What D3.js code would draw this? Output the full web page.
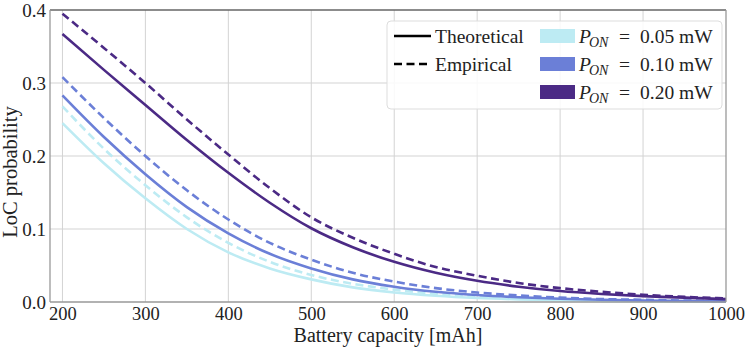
<!DOCTYPE html>
<html><head><meta charset="utf-8">
<script src="https://cdn.jsdelivr.net/npm/d3@7/dist/d3.min.js"></script>
<style>body{margin:0;background:#fff}svg{display:block}text{font-family:"Liberation Serif","DejaVu Serif",serif;fill:#222}</style>
</head><body><svg id="c" width="748" height="349"></svg>
<script>
const capacity = [200,250,300,350,400,450,500,550,600,650,700,750,800,850,900,950,1000];
const theo005 = [.245,.190,.142,.100,.068,.046,.031,.020,.013,.0085,.0055,.0036,.0024,.0016,.001,.0007,.0005];
const emp005  = [.268,.210,.160,.116,.081,.055,.037,.025,.017,.011,.0075,.005,.0034,.0023,.0015,.001,.0007];
const theo010 = [.283,.226,.175,.130,.094,.066,.046,.031,.021,.014,.0095,.0065,.0045,.003,.002,.0014,.001];
const emp010  = [.308,.252,.200,.153,.113,.081,.058,.040,.028,.019,.013,.009,.006,.004,.003,.002,.0015];
const theo020 = [.367,.318,.270,.222,.177,.136,.101,.075,.055,.040,.029,.021,.015,.011,.008,.006,.004];
const emp020  = [.395,.348,.300,.250,.202,.156,.116,.088,.066,.048,.036,.026,.019,.014,.010,.007,.005];
const xTicks = [200,300,400,500,600,700,800,900,1000];
const yTicks = [0.0,0.1,0.2,0.3,0.4];
const powerLabels = ["0.05","0.10","0.20"];
const colors = ["#bdebf3","#6b7fd7","#4b2a85"];

const series = [
  {v:theo005,c:0,dash:false},{v:emp005,c:0,dash:true},
  {v:theo010,c:1,dash:false},{v:emp010,c:1,dash:true},
  {v:theo020,c:2,dash:false},{v:emp020,c:2,dash:true}
];

const svg = d3.select("#c");
const L=50,R=726,T=10,B=302;
const x = d3.scaleLinear().domain([185,1000]).range([L,R]);
const y = d3.scaleLinear().domain([0,0.4]).range([B,T]);

// grid
svg.append("g").selectAll("line").data(xTicks.filter(d=>d<1000)).join("line")
  .attr("x1",d=>x(d)).attr("x2",d=>x(d)).attr("y1",T).attr("y2",B)
  .attr("stroke","#d3d3d3").attr("stroke-width",1);
svg.append("g").selectAll("line").data(yTicks.filter(d=>d>0&&d<0.4)).join("line")
  .attr("y1",d=>y(d)).attr("y2",d=>y(d)).attr("x1",L).attr("x2",R)
  .attr("stroke","#d3d3d3").attr("stroke-width",1);

// lines
const line = d3.line().x((d,i)=>x(capacity[i])).y(d=>y(d)).curve(d3.curveMonotoneX);
svg.append("g").selectAll("path").data(series).join("path")
  .attr("d",d=>line(d.v)).attr("fill","none")
  .attr("stroke",d=>colors[d.c]).attr("stroke-width",2.6)
  .attr("stroke-dasharray",d=>d.dash?"8,4.5":null);

// spines
svg.append("line").attr("x1",L).attr("x2",R).attr("y1",T).attr("y2",T).attr("stroke","#666").attr("stroke-width",1.3);
svg.append("line").attr("x1",R).attr("x2",R).attr("y1",T).attr("y2",B).attr("stroke","#999").attr("stroke-width",1.3);
svg.append("line").attr("x1",L).attr("x2",L).attr("y1",T).attr("y2",B).attr("stroke","#999").attr("stroke-width",1.3);
svg.append("line").attr("x1",L).attr("x2",R).attr("y1",B).attr("y2",B).attr("stroke","#999").attr("stroke-width",1.3);

// axes (tick labels only)
const xa = svg.append("g").attr("transform",`translate(0,${B})`)
  .call(d3.axisBottom(x).tickValues(xTicks).tickSize(0).tickPadding(5).tickFormat(d3.format("d")));
xa.select(".domain").remove();
xa.selectAll("text").attr("font-size",18.5).attr("font-family","Liberation Serif").attr("fill","#222");
const ya = svg.append("g").attr("transform",`translate(${L},0)`)
  .call(d3.axisLeft(y).tickValues(yTicks).tickSize(0).tickPadding(4).tickFormat(d3.format(".1f")));
ya.select(".domain").remove();
ya.selectAll("text").attr("font-size",19).attr("font-family","Liberation Serif").attr("fill","#222");

svg.append("text").attr("x",388).attr("y",342).attr("text-anchor","middle").attr("font-size",20).text("Battery capacity [mAh]");
svg.append("text").attr("transform","translate(17,172) rotate(-90)").attr("text-anchor","middle").attr("font-size",20.5).text("LoC probability");

// legend
const lg = svg.append("g");
lg.append("rect").attr("x",387).attr("y",21).attr("width",335).attr("height",88).attr("rx",4)
  .attr("fill","#fff").attr("fill-opacity",0.85).attr("stroke","#ddd").attr("stroke-width",1);
const styleRows = [{t:"Theoretical",dash:false},{t:"Empirical",dash:true}];
styleRows.forEach((r,i)=>{
  const yy = 36+i*28;
  lg.append("line").attr("x1",394).attr("x2",431).attr("y1",yy).attr("y2",yy)
    .attr("stroke","#000").attr("stroke-width",2.6).attr("stroke-dasharray",r.dash?"8,4.5":null);
  lg.append("text").attr("x",435).attr("y",yy).attr("dy","0.35em").attr("font-size",19.5).text(r.t);
});
powerLabels.forEach((p,i)=>{
  const yy = 36+i*28;
  lg.append("rect").attr("x",540).attr("y",yy-7).attr("width",35).attr("height",14).attr("fill",colors[i]);
  const g = lg.append("g").attr("transform",`translate(0,${yy})`);
  const t = g.append("text").attr("y",0).attr("dy","0.35em").attr("font-size",19.5);
  t.append("tspan").attr("x",579).attr("font-style","italic").text("P");
  t.append("tspan").attr("x",589).attr("font-style","italic").attr("font-size",14).attr("dy",4).text("ON");
  t.append("tspan").attr("x",619).attr("dy",-4).text("=");
  t.append("tspan").attr("x",640).text(p + " mW");
});
</script></body></html>
